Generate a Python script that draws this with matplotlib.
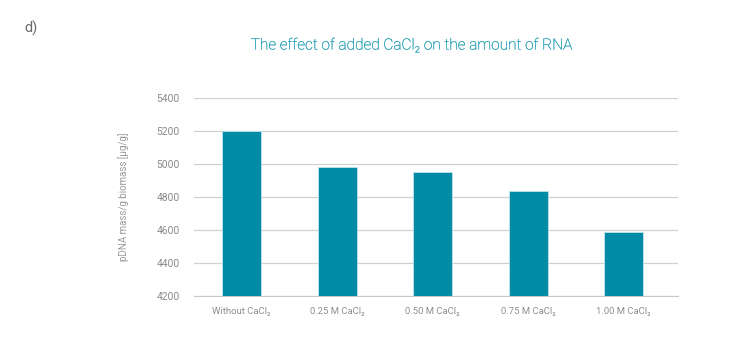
import matplotlib
matplotlib.use("Agg")
import matplotlib.pyplot as plt
import matplotlib.patheffects as pe

# dados
categorias = ["Without CaCl₂", "0.25 M CaCl₂", "0.50 M CaCl₂", "0.75 M CaCl₂", "1.00 M CaCl₂"]
valores = [5200, 4980, 4952, 4835, 4588]
ticks_y = [4200, 4400, 4600, 4800, 5000, 5200, 5400]

plt.rcParams['font.family'] = ['Roboto', 'DejaVu Sans']
plt.rcParams['font.weight'] = 'light'

cor_barra = '#018ba6'
cor_titulo = '#1d9cb2'
cinza = '#8a8a8a'

fig = plt.figure(figsize=(7.37, 3.53), dpi=100)
ax = fig.add_axes([0.263, 0.1615, 0.657, 0.561])

x = range(len(categorias))
ax.bar(x, valores, width=0.41, color=cor_barra, edgecolor='#bfe3ea', linewidth=0.6, zorder=3)

ax.set_ylim(4200, 5400)
ax.set_xlim(-0.5, 4.57)
ax.set_yticks(ticks_y)
ax.set_xticks(list(x))
ax.set_xticklabels(categorias, fontsize=6.8, color='#8f8f8f', fontweight='normal')
ax.tick_params(axis='y', labelsize=7.4, colors=cinza, length=0, pad=10)
ax.tick_params(axis='x', length=0, pad=8)
for t in ax.get_yticklabels():
    t.set_fontweight('normal')
ax.grid(axis='y', color='#d0d0d0', linewidth=0.9, zorder=0)
for lado in ['top', 'right', 'left']:
    ax.spines[lado].set_visible(False)
ax.spines['bottom'].set_color('#c8c8c8')

ax.set_ylabel('pDNA mass/g biomass [µg/g]', fontsize=7, color='#999999', labelpad=20)

titulo = fig.text(0.557, 0.872, 'The effect of added CaCl₂ on the amount of RNA',
                  ha='center', va='center', fontsize=11.1, color=cor_titulo)
titulo.set_path_effects([pe.withStroke(linewidth=0.15, foreground=cor_titulo)])
fig.text(0.033, 0.92, 'd)', ha='left', va='center', fontsize=10.5, color='#6a6a6a', fontweight='normal')

fig.savefig('out.png', dpi=100)
